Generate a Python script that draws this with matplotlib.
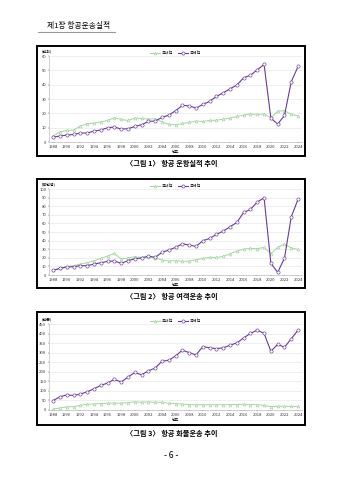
import matplotlib
matplotlib.use("Agg")
from matplotlib import pyplot as plt
from matplotlib.patches import Rectangle

plt.rcParams['font.family'] = ['Noto Sans CJK KR', 'DejaVu Sans']

years = list(range(1988, 2025))
year_ticks = list(range(1988, 2025, 2))

# 그림 1 운항실적 (만회)
flights_dom = [4.2, 7.2, 8.1, 8.4, 11.2, 12.8, 13.3, 14.0, 15.1, 17.0, 15.8, 15.1, 16.7, 16.5,
               16.0, 16.3, 14.2, 12.3, 12.1, 13.0, 13.7, 14.7, 14.4, 15.1, 15.3, 16.0, 16.7,
               17.9, 18.8, 19.5, 19.3, 19.5, 17.0, 21.6, 21.9, 19.3, 18.4]
flights_int = [3.5, 4.2, 4.9, 5.3, 6.3, 6.3, 7.7, 8.4, 10.0, 10.5, 9.1, 9.3, 10.9, 12.1,
               14.4, 14.7, 17.2, 18.8, 21.9, 25.6, 25.3, 23.7, 26.3, 28.4, 31.9, 34.4, 37.2,
               39.8, 44.9, 46.7, 50.5, 54.2, 16.7, 12.6, 18.6, 42.3, 52.8]

# 그림 2 여객운송 (백만명)
pax_dom = [5.8, 7.8, 9.7, 10.9, 12.8, 14.3, 16.7, 19.4, 22.1, 25.2, 18.6, 19.8, 21.3, 20.5,
           20.5, 20.2, 17.4, 16.3, 16.7, 15.9, 16.3, 17.8, 19.4, 20.5, 20.5, 21.7, 24.8,
           27.9, 30.2, 31.0, 30.6, 32.2, 24.8, 32.2, 36.0, 31.4, 29.8]
pax_int = [5.4, 7.8, 9.3, 9.7, 10.9, 10.9, 12.8, 14.3, 15.9, 16.3, 13.6, 16.7, 19.0, 19.8,
           22.1, 20.5, 26.4, 29.1, 32.2, 36.4, 34.9, 33.3, 39.9, 42.6, 47.3, 51.2, 56.2,
           61.2, 72.9, 76.4, 84.9, 90.0, 13.6, 3.1, 19.8, 67.8, 88.4]

# 그림 3 화물운송 (만톤)
cargo_dom = [5, 10, 16, 17, 24, 30, 31, 33, 35, 36, 35, 38, 42, 40, 42, 40, 40, 35, 33, 30,
             28, 27, 27, 27, 27, 27, 28, 28, 29, 28, 27, 24, 17, 19, 19, 19, 18]
cargo_int = [49, 69, 78, 76, 83, 95, 111, 128, 141, 160, 146, 172, 196, 184, 205, 219, 255,
             260, 283, 313, 300, 288, 332, 325, 321, 325, 339, 351, 377, 401, 418, 401, 307,
             344, 328, 373, 418]

charts = [
    ("(만회)", flights_dom, flights_int, 60, 10, "〈그림 1〉 항공 운항실적 추이"),
    ("(백만명)", pax_dom, pax_int, 100, 10, "〈그림 2〉 항공 여객운송 추이"),
    ("(만톤)", cargo_dom, cargo_int, 450, 50, "〈그림 3〉 항공 화물운송 추이"),
]

# box (bottom, height) and axes (bottom, height) in figure fractions
boxes = [(0.675, 0.229), (0.400, 0.227), (0.115, 0.235)]
axes_pos = [(0.704, 0.179), (0.427, 0.179), (0.146, 0.179)]
caption_y = [0.660, 0.383, 0.098]

green = "#a3d69e"
purple = "#6b3a9a"

fig = plt.figure(figsize=(3.43, 4.80), dpi=100)

fig.text(0.137, 0.945, "제1장 항공운송실적", fontsize=5.6, ha="left", va="center")
fig.add_artist(plt.Line2D([0.111, 0.336], [0.933, 0.933], color="#999999", lw=0.8))

for i, (unit, dom, intl, ymax, step, caption) in enumerate(charts):
    bb, bh = boxes[i]
    fig.add_artist(Rectangle((0.108, bb), 0.781, bh, transform=fig.transFigure,
                             fill=False, edgecolor="black", lw=1.4))
    ab, ah = axes_pos[i]
    ax = fig.add_axes([0.143, ab, 0.738, ah])
    ax.plot(years, dom, color=green, lw=0.7, marker="^", ms=2.0, mfc="white",
            mec=green, mew=0.5, label="국내선")
    ax.plot(years, intl, color=purple, lw=0.8, marker="o", ms=2.3, mfc="white",
            mec=purple, mew=0.45, label="국제선")
    ax.set_xlim(1987.4, 2024.6)
    ax.set_ylim(0, ymax)
    ax.set_yticks(range(0, ymax + 1, step))
    ax.set_xticks(year_ticks)
    ax.tick_params(labelsize=3.0, length=1, width=0.3, pad=1, colors="#333333")
    ax.grid(axis="y", color="#e4e4e4", lw=0.4)
    ax.set_axisbelow(True)
    for s in ["top", "right"]:
        ax.spines[s].set_visible(False)
    for s in ["left", "bottom"]:
        ax.spines[s].set_color("#aaaaaa")
        ax.spines[s].set_linewidth(0.4)
    ax.text(-0.03, 1.03, unit, transform=ax.transAxes, fontsize=2.9, ha="left", va="bottom")
    ax.set_xlabel("년도", fontsize=2.9, labelpad=1)
    ax.legend(loc="lower center", bbox_to_anchor=(0.5, 0.98), ncol=2, frameon=False,
              fontsize=2.9, handlelength=2.5, columnspacing=1.2, handletextpad=0.4,
              borderpad=0)
    fig.text(0.5, caption_y[i], caption, fontsize=5.2, fontweight="bold",
             ha="center", va="center")

fig.text(0.5, 0.05, "- 6 -", fontsize=6, ha="center", va="center")

fig.savefig("out.png", dpi=100, facecolor="white")
